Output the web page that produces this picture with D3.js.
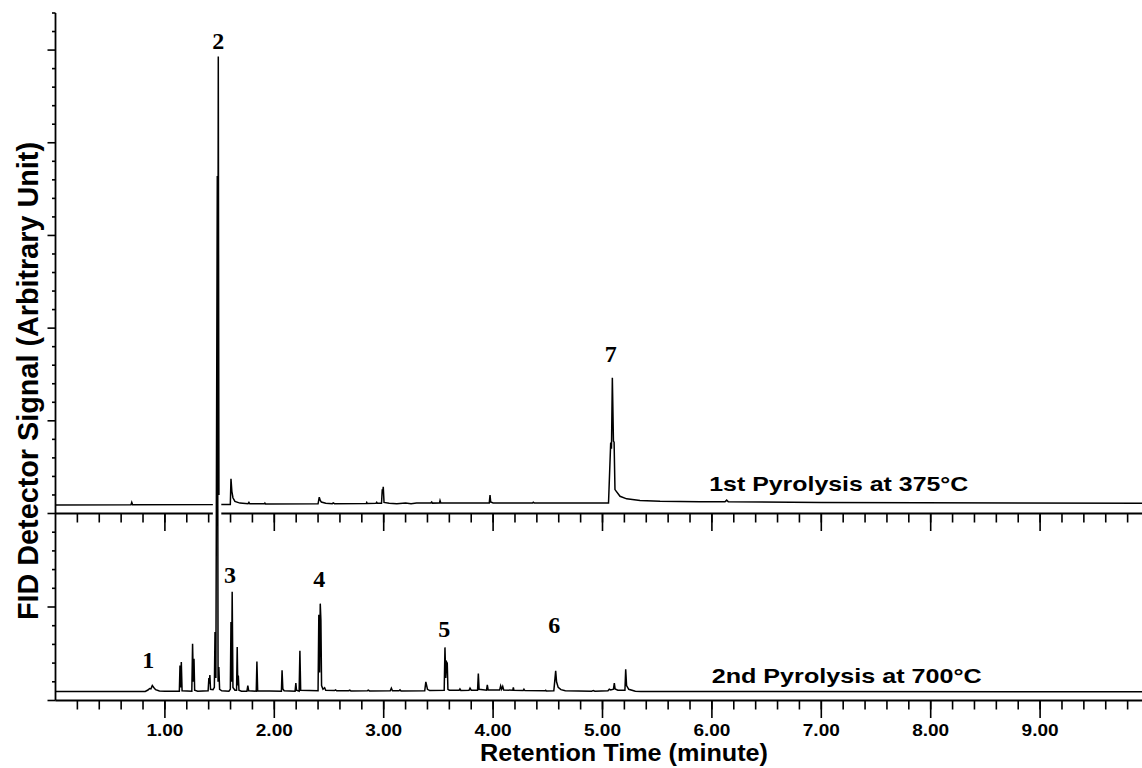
<!DOCTYPE html>
<html>
<head>
<meta charset="utf-8">
<script src="https://cdn.jsdelivr.net/npm/d3@7"></script>
<style>
  body { margin: 0; background: #fff; }
  svg { display: block; background: #fff; }
</style>
</head>
<body>
<svg id="chart" width="1142" height="768"></svg>
<script>
// ---- Retention-time axis ----
const majorTimes = [1, 2, 3, 4, 5, 6, 7, 8, 9];
const timeTickLabels = ["1.00", "2.00", "3.00", "4.00", "5.00", "6.00", "7.00", "8.00", "9.00"];

// ---- Chromatogram of the 1st pyrolysis (375 °C): [time (min), signal] ----
const run375 = [
  [0.00, 0.46], [0.69, 0.47], [0.697, 0.60], [0.705, 0.47],
  [1.482, 0.48], [1.488, 24.65], [1.494, 0.48],
  [1.598, 0.49], [1.604, 1.87], [1.612, 1.20], [1.622, 0.85], [1.64, 0.65], [1.686, 0.56],
  [1.76, 0.53], [1.768, 0.60], [1.776, 0.52], [1.91, 0.52], [1.914, 0.56], [1.92, 0.51],
  [2.40, 0.52], [2.411, 0.88], [2.42, 0.70], [2.43, 0.62], [2.47, 0.55],
  [2.53, 0.53], [2.539, 0.57], [2.55, 0.53],
  [2.84, 0.54], [2.845, 0.60], [2.85, 0.54], [2.93, 0.55], [2.936, 0.60], [2.942, 0.55],
  [2.98, 0.55], [2.987, 1.30], [2.992, 1.20], [2.996, 1.44], [3.003, 0.60],
  [3.05, 0.55], [3.12, 0.53], [3.20, 0.56], [3.25, 0.53], [3.30, 0.56],
  [3.43, 0.56], [3.439, 0.62], [3.445, 0.56], [3.51, 0.57], [3.515, 0.70], [3.522, 0.57], [3.60, 0.57],
  [3.965, 0.57], [3.972, 0.99], [3.978, 0.62], [4.00, 0.57],
  [4.36, 0.57], [4.367, 0.61], [4.375, 0.57],
  [5.055, 0.57], [5.075, 3.83], [5.082, 3.50], [5.09, 7.32], [5.10, 3.90], [5.106, 3.85],
  [5.114, 1.29], [5.16, 0.93], [5.221, 0.79], [5.343, 0.70], [5.526, 0.66], [5.89, 0.63],
  [6.12, 0.63], [6.135, 0.72], [6.15, 0.63], [7.00, 0.60], [10.0, 0.55]
];

// ---- Chromatogram of the 2nd pyrolysis (700 °C): [time (min), signal] ----
const run700 = [
  [0.00, 0.48], [0.82, 0.48], [0.845, 0.56], [0.86, 0.64], [0.872, 0.62], [0.885, 0.80],
  [0.898, 0.70], [0.915, 0.58], [0.95, 0.51], [1.00, 0.49],
  [1.132, 0.49], [1.138, 1.87], [1.144, 0.70], [1.150, 2.06], [1.157, 0.52],
  [1.246, 0.50], [1.253, 3.04], [1.26, 1.00], [1.266, 2.23], [1.272, 0.55], [1.30, 0.50],
  [1.395, 0.52], [1.402, 1.20], [1.406, 0.90], [1.411, 1.36], [1.417, 0.60], [1.44, 0.58],
  [1.452, 0.70], [1.458, 3.66], [1.466, 1.20], [1.479, 28.05], [1.486, 1.00], [1.493, 1.79],
  [1.50, 0.60], [1.52, 0.52],
  [1.585, 0.50], [1.598, 0.60], [1.604, 4.20], [1.609, 1.00], [1.615, 5.81], [1.622, 0.70], [1.64, 0.55],
  [1.655, 0.55], [1.661, 2.86], [1.666, 0.80], [1.671, 1.34], [1.677, 0.55], [1.70, 0.50],
  [1.75, 0.50], [1.758, 0.80], [1.766, 0.52],
  [1.835, 0.50], [1.841, 2.09], [1.848, 0.52],
  [2.065, 0.50], [2.071, 1.61], [2.078, 0.62], [2.09, 0.52],
  [2.19, 0.50], [2.197, 0.93], [2.203, 0.55], [2.227, 0.50], [2.234, 2.66], [2.241, 0.55],
  [2.40, 0.52], [2.407, 4.59], [2.414, 1.50], [2.42, 5.18], [2.426, 4.29], [2.432, 0.80],
  [2.445, 0.60], [2.46, 0.68], [2.47, 0.55],
  [2.55, 0.53], [2.56, 0.57], [2.57, 0.52], [2.68, 0.52], [2.69, 0.55], [2.70, 0.51],
  [2.85, 0.52], [2.86, 0.55], [2.87, 0.51], [3.06, 0.52], [3.07, 0.66], [3.08, 0.52],
  [3.14, 0.52], [3.149, 0.57], [3.158, 0.51],
  [3.375, 0.52], [3.385, 1.00], [3.40, 0.60], [3.42, 0.53],
  [3.553, 0.55], [3.56, 2.84], [3.567, 1.20], [3.574, 2.07], [3.581, 2.00], [3.587, 0.60], [3.60, 0.55],
  [3.69, 0.55], [3.697, 0.62], [3.705, 0.54], [3.78, 0.55], [3.789, 0.66], [3.80, 0.55],
  [3.858, 0.55], [3.865, 1.44], [3.872, 0.60], [3.94, 0.55], [3.947, 0.84], [3.955, 0.56],
  [4.06, 0.56], [4.069, 0.78], [4.078, 0.60], [4.088, 0.75], [4.097, 0.56],
  [4.18, 0.55], [4.185, 0.70], [4.19, 0.55], [4.275, 0.53], [4.282, 0.60], [4.29, 0.53],
  [4.475, 0.52], [4.481, 0.55], [4.487, 0.51],
  [4.555, 0.52], [4.566, 1.20], [4.572, 1.59], [4.58, 1.00], [4.595, 0.70], [4.62, 0.58], [4.66, 0.52],
  [4.90, 0.50], [4.916, 0.53], [4.93, 0.50], [5.05, 0.52], [5.062, 0.60], [5.075, 0.56],
  [5.10, 0.60], [5.108, 0.93], [5.115, 0.62], [5.14, 0.55],
  [5.205, 0.55], [5.212, 1.67], [5.22, 0.80], [5.24, 0.60], [5.30, 0.50], [5.35, 0.48], [10.0, 0.47]
];

// ---- Peak numbers: run, label time, label signal ----
const peakNumbers = ["1", "2", "3", "4", "5", "6", "7"];
const peakRuns = ["700", "375", "700", "700", "700", "700", "375"];
const peakLabelTimes = [0.848, 1.488, 1.595, 2.411, 3.554, 4.559, 5.075];
const peakLabelSignals = [1.74, 25.07, 6.28, 6.07, 3.41, 3.59, 8.17];

// ---- Run captions ----
const runCaptions = ["1st Pyrolysis at 375°C", "2nd Pyrolysis at 700°C"];
const runCaptionTimes = [5.976, 5.998];
const runCaptionSignals = [1.2, 0.96];

// ---- Layout ----
const W = 1142, H = 768;
const svg = d3.select("#chart");

const x = d3.scaleLinear().domain([0, 10]).range([55.5, 1149.5]);
const yUp = d3.scaleLinear().domain([0, 27]).range([513.5, 13]);   // 375 °C panel
const yLo = d3.scaleLinear().domain([0, 10]).range([700.5, 513.5]); // 700 °C panel
const yOf = { "375": yUp, "700": yLo };

const sans = "'Liberation Sans', Arial, Helvetica, sans-serif";
const serif = "'Liberation Serif', 'Times New Roman', serif";
const axisW = 1.8;

// ---- Time axes (shared tick pattern for both panels) ----
const minorTimes = d3.range(1, 50).map(i => i / 5);

function timeAxis(yPos, withLabels) {
  const g = svg.append("g").attr("transform", `translate(0,${yPos})`);
  g.append("line")
    .attr("x1", x(0)).attr("x2", W)
    .attr("stroke", "#000").attr("stroke-width", axisW);
  g.selectAll("line.minor").data(minorTimes).join("line")
    .attr("class", "minor")
    .attr("x1", d => x(d)).attr("x2", d => x(d))
    .attr("y1", 0).attr("y2", 9)
    .attr("stroke", "#000").attr("stroke-width", 1.6);
  g.selectAll("line.major").data(majorTimes).join("line")
    .attr("class", "major")
    .attr("x1", d => x(d)).attr("x2", d => x(d))
    .attr("y1", 0).attr("y2", 17.5)
    .attr("stroke", "#000").attr("stroke-width", 1.6);
  if (withLabels) {
    g.selectAll("text").data(majorTimes).join("text")
      .attr("x", d => x(d)).attr("y", 35)
      .attr("text-anchor", "middle")
      .attr("font-family", sans).attr("font-weight", "bold")
      .attr("font-size", 16)
      .attr("textLength", 37).attr("lengthAdjust", "spacingAndGlyphs")
      .text((d, i) => timeTickLabels[i]);
  }
}
timeAxis(yLo(0), true);
timeAxis(yLo(10), false);

// ---- Signal axis ----
const yAxisG = svg.append("g");
yAxisG.append("line")
  .attr("x1", x(0)).attr("x2", x(0))
  .attr("y1", yUp(27)).attr("y2", yLo(0))
  .attr("stroke", "#000").attr("stroke-width", axisW);

const upTicks = d3.range(1, 28);
const loTicks = d3.range(0, 11);
const tickYs = upTicks.map(v => ({ y: yUp(v), major: v % 5 === 0 }))
  .concat(loTicks.map(v => ({ y: yLo(v), major: v % 5 === 0 })));
yAxisG.selectAll("line.tick").data(tickYs).join("line")
  .attr("class", "tick")
  .attr("x1", d => x(0) - (d.major ? 8 : 3.5)).attr("x2", x(0))
  .attr("y1", d => d.y).attr("y2", d => d.y)
  .attr("stroke", "#000").attr("stroke-width", 1.6);

// ---- Traces ----
const line375 = d3.line().x(d => x(d[0])).y(d => yUp(d[1]));
const line700 = d3.line().x(d => x(d[0])).y(d => yLo(d[1]));

svg.append("path").datum(run375)
  .attr("d", line375)
  .attr("fill", "none").attr("stroke", "#000")
  .attr("stroke-width", 1.5).attr("stroke-linejoin", "miter");

// white knock-out where the 700 °C trace crosses the 375 °C baseline and the mid axis
svg.append("clipPath").attr("id", "crossBand")
  .append("rect")
  .attr("x", 0).attr("width", W)
  .attr("y", yUp(1.0)).attr("height", yLo(10) - yUp(1.0) + 4);

svg.append("path").datum(run700)
  .attr("d", line700)
  .attr("clip-path", "url(#crossBand)")
  .attr("fill", "none").attr("stroke", "#fff")
  .attr("stroke-width", 7);

svg.append("path").datum(run700)
  .attr("d", line700)
  .attr("fill", "none").attr("stroke", "#000")
  .attr("stroke-width", 1.5).attr("stroke-linejoin", "miter");

// ---- Peak numbers ----
svg.append("g").selectAll("text").data(peakNumbers).join("text")
  .attr("x", (d, i) => x(peakLabelTimes[i]))
  .attr("y", (d, i) => yOf[peakRuns[i]](peakLabelSignals[i]))
  .attr("text-anchor", "middle")
  .attr("font-family", serif).attr("font-weight", "bold")
  .attr("font-size", 24)
  .text(d => d);

// ---- Run captions ----
const captionLengths = [259, 270];
const captionScales = [yUp, yLo];
svg.append("g").selectAll("text").data(runCaptions).join("text")
  .attr("x", (d, i) => x(runCaptionTimes[i]))
  .attr("y", (d, i) => captionScales[i](runCaptionSignals[i]))
  .attr("font-family", sans).attr("font-weight", "bold")
  .attr("font-size", 21)
  .attr("textLength", (d, i) => captionLengths[i]).attr("lengthAdjust", "spacingAndGlyphs")
  .text(d => d);

// ---- Axis titles ----
svg.append("text")
  .attr("x", 480).attr("y", 761)
  .attr("font-family", sans).attr("font-weight", "bold")
  .attr("font-size", 23)
  .attr("textLength", 288).attr("lengthAdjust", "spacingAndGlyphs")
  .text("Retention Time (minute)");

svg.append("text")
  .attr("transform", "translate(37.5,381) rotate(-90)")
  .attr("text-anchor", "middle")
  .attr("font-family", sans).attr("font-weight", "bold")
  .attr("font-size", 29)
  .attr("textLength", 478).attr("lengthAdjust", "spacingAndGlyphs")
  .text("FID Detector Signal (Arbitrary Unit)");
</script>
</body>
</html>
